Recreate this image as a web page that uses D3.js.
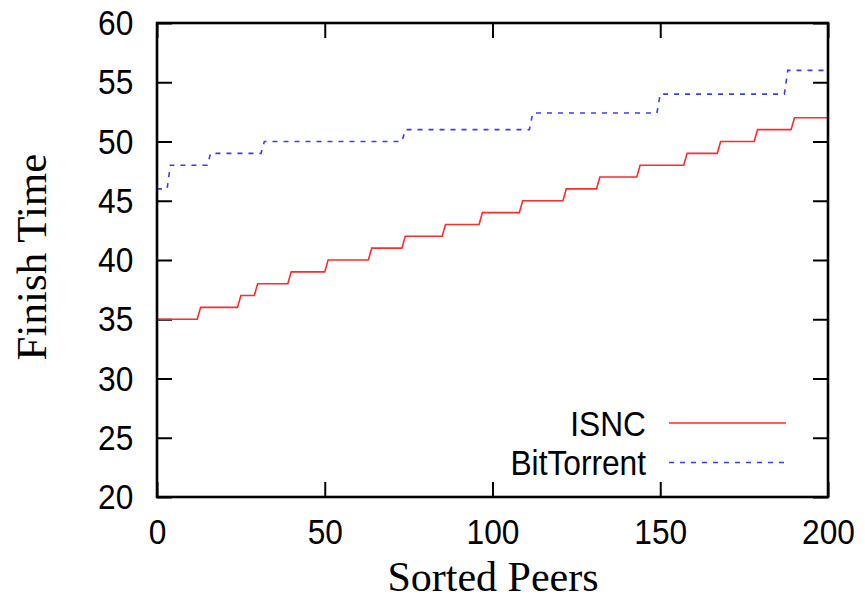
<!DOCTYPE html>
<html>
<head>
<meta charset="utf-8">
<script src="https://cdn.jsdelivr.net/npm/d3@7"></script>
<style>
  body { margin: 0; background: #fff; }
  svg text { fill: #000; }
</style>
</head>
<body>
<div id="chart"></div>
<script>
// step data: first peer of each level, and the finish time of that level
var isncStarts = [0, 13, 25, 30, 40, 51, 64, 74, 86, 97, 109, 122, 132, 144, 158, 168, 179, 190];
var isncTimes  = [35, 36, 37, 38, 39, 40, 41, 42, 43, 44, 45, 46, 47, 48, 49, 50, 51, 52];

var btStarts = [0, 4, 16, 32, 74, 112, 150, 188];
var btTimes  = [46, 48, 49, 50, 51, 52.4, 54, 56];

var lastPeer = 200;
var xTicks = [0, 50, 100, 150, 200];
var yTicks = [20, 25, 30, 35, 40, 45, 50, 55, 60];

var seriesNames = ["ISNC", "BitTorrent"];

var svgWidth = 865,
    svgHeight = 602;
var margin = {left: 157, top: 23, right: 37, bottom: 105};
var width = svgWidth - margin.left - margin.right,
    height = svgHeight - margin.top - margin.bottom;

var svg = d3.select('#chart').append('svg')
  .attr('width', svgWidth)
  .attr('height', svgHeight);

var g = svg.append('g')
  .attr('transform', 'translate(' + margin.left + ',' + margin.top + ')');

var x = d3.scaleLinear().domain([0, 200]).range([0, width]);
var y = d3.scaleLinear().domain([20, 60]).range([height, 0]);

// turn step levels into points (start and end of each flat part)
function stepPoints(starts, times) {
  var pts = [];
  starts.forEach(function(s, i) {
    var end = i < starts.length - 1 ? starts[i + 1] - 1 : lastPeer;
    pts.push([s, times[i]]);
    pts.push([end, times[i]]);
  });
  return pts;
}

var line = d3.line()
  .x(function(d) { return x(d[0]); })
  .y(function(d) { return y(d[1]); });

var tickFont = '"Liberation Sans", Arial, Helvetica, sans-serif';
var titleFont = '"Liberation Serif", "Times New Roman", Times, serif';
var squeeze = 0.88;

// axes, ticks pointing inwards on all four sides
var xAxis = g.append('g')
  .attr('transform', 'translate(0,' + height + ')')
  .call(d3.axisBottom(x).tickValues(xTicks).tickSizeInner(-15).tickSizeOuter(0).tickPadding(21));
var yAxis = g.append('g')
  .call(d3.axisLeft(y).tickValues(yTicks).tickSizeInner(-15).tickSizeOuter(0).tickPadding(27));
var topAxis = g.append('g')
  .call(d3.axisTop(x).tickValues(xTicks).tickSizeInner(-15).tickSizeOuter(0).tickFormat(''));
var rightAxis = g.append('g')
  .attr('transform', 'translate(' + width + ',0)')
  .call(d3.axisRight(y).tickValues(yTicks).tickSizeInner(-15).tickSizeOuter(0).tickFormat(''));

[xAxis, yAxis, topAxis, rightAxis].forEach(function(a) {
  a.select('.domain').remove();
  a.selectAll('line').attr('stroke', '#000').attr('stroke-width', 2);
  a.selectAll('text')
    .attr('font-family', tickFont)
    .attr('font-size', 36)
    .attr('transform', 'scale(' + squeeze + ',1)');
});

// lines
var colors = ['#ff2a2a', '#3a3aff'];
g.append('path')
  .datum(stepPoints(isncStarts, isncTimes))
  .attr('fill', 'none')
  .attr('stroke', colors[0])
  .attr('stroke-width', 1.6)
  .attr('d', line);
g.append('path')
  .datum(stepPoints(btStarts, btTimes))
  .attr('fill', 'none')
  .attr('stroke', colors[1])
  .attr('stroke-width', 1.6)
  .attr('stroke-dasharray', '5,6')
  .attr('d', line);

// frame
g.append('rect')
  .attr('width', width)
  .attr('height', height)
  .attr('fill', 'none')
  .attr('stroke', '#000')
  .attr('stroke-width', 2.6);

// legend
var legend = g.selectAll('.legend').data(seriesNames).enter().append('g')
  .attr('class', 'legend')
  .attr('transform', function(d, i) { return 'translate(0,' + (400 + i * 39.5) + ')'; });
legend.append('text')
  .attr('x', 489 / squeeze)
  .attr('dy', '0.36em')
  .attr('text-anchor', 'end')
  .attr('font-family', tickFont)
  .attr('font-size', 36)
  .attr('transform', 'scale(' + squeeze + ',1)')
  .text(function(d) { return d; });
legend.append('line')
  .attr('x1', 512)
  .attr('x2', 629)
  .attr('stroke', function(d, i) { return colors[i]; })
  .attr('stroke-width', 1.6)
  .attr('stroke-dasharray', function(d, i) { return i == 1 ? '5,6' : null; });

// axis titles
svg.append('text')
  .attr('x', 493)
  .attr('y', 591)
  .attr('text-anchor', 'middle')
  .attr('font-family', titleFont)
  .attr('font-size', 42)
  .text('Sorted Peers');
svg.append('text')
  .attr('transform', 'translate(46,257) rotate(-90)')
  .attr('text-anchor', 'middle')
  .attr('font-family', titleFont)
  .attr('font-size', 43)
  .text('Finish Time');
</script>
</body>
</html>
